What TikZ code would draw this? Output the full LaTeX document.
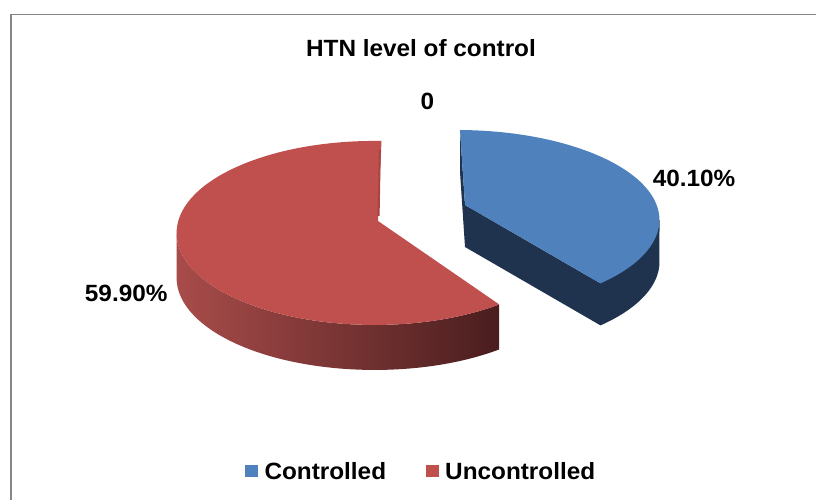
\documentclass[tikz,border=0pt]{standalone}
\usepackage{fontspec}
\setmainfont{Liberation Sans}
\definecolor{redtop}{RGB}{192,80,77}
\definecolor{bluetop}{RGB}{79,129,189}
\definecolor{bluedark}{RGB}{31,50,78}
\definecolor{redsideL}{RGB}{168,76,74}
\definecolor{redsideM}{RGB}{118,50,50}
\definecolor{redsideR}{RGB}{74,29,30}
\definecolor{redstrip}{RGB}{170,68,66}
\definecolor{framegray}{RGB}{134,134,134}
\newcommand{\myxs}[1]{\scalebox{1.035}[1]{#1}}
\begin{document}
\begin{tikzpicture}[x=1pt,y=1pt,
  lbl/.style={font=\fontsize{23.5}{28}\selectfont\bfseries, inner sep=0pt, anchor=base},
  keybox/.style={fill=#1, draw=none, minimum size=12.7, inner sep=0pt, anchor=south west}]
\useasboundingbox (0,0) rectangle (816,500);
\begin{scope}
\clip (0,0) rectangle (816,500);
\draw[framegray, line width=1.5] (11,-10) -- (11,485.5) -- (830,485.5);
\end{scope}
% red slice
\coordinate (rApex) at (378,279);
\coordinate (rTop) at (381.5,359);
\coordinate (rLeft) at (176.6,267.06);
\shade[left color=redsideL, middle color=redsideM, right color=redsideR]
  (rLeft) arc[start angle=180,end angle=309,x radius=198,y radius=92]
  -- ++(0,-45) arc[start angle=309,end angle=180,x radius=198,y radius=92] -- cycle;
\fill[redtop] (rApex) -- (rTop) arc[start angle=88,end angle=309,x radius=198,y radius=92] -- cycle;
\draw[redstrip, line width=2] (379.8,350) -- (378.6,284);
% blue slice
\coordinate (bTop) at (460,370);
\coordinate (bApex) at (465,295);
\coordinate (bCorner) at (600.5,216.6);
\coordinate (bRight) at (659.5,280);
\fill[bluedark] (bTop) -- ++(0,-42) -- ([yshift=-42pt]bApex) -- ([yshift=-42pt]bCorner)
  arc[start angle=-44.8,end angle=0,x radius=203,y radius=90] -- (bRight) -- (bCorner) -- (bApex) -- cycle;
\fill[bluetop] (bApex) -- (bTop) arc[start angle=89,end angle=-44.8,x radius=203,y radius=90] -- cycle;
% labels
\node[lbl] (title) at (421,443.3) {\myxs{HTN level of control}};
\node[lbl] (zero) at (427.5,390) {\myxs{0}};
\node[lbl] (pc) at (694,313.3) {\myxs{40.10\%}};
\node[lbl] (pu) at (126.2,198.3) {\myxs{59.90\%}};
% legend
\node[keybox=bluetop] (kc) at (245,22.3) {};
\node[lbl, anchor=base west] (lc) at (264.3,20) {\myxs{Controlled}};
\node[keybox=redtop] (ku) at (426,22.3) {};
\node[lbl, anchor=base west] (lu) at (445,20) {\myxs{Uncontrolled}};
\end{tikzpicture}
\end{document}
